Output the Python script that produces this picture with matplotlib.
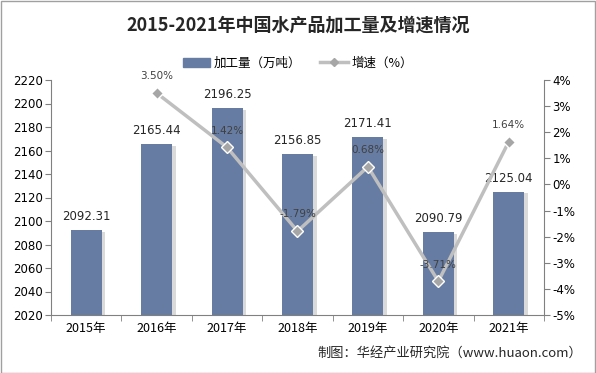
import matplotlib.pyplot as plt
import matplotlib.patches as mpatches
from matplotlib.lines import Line2D

plt.rcParams['font.family'] = ['Noto Sans CJK SC', 'DejaVu Sans']

years = ["2015年", "2016年", "2017年", "2018年", "2019年", "2020年", "2021年"]
output = [2092.31, 2165.44, 2196.25, 2156.85, 2171.41, 2090.79, 2125.04]
growth_years = [1, 2, 3, 4, 5, 6]
growth = [3.50, 1.42, -1.79, 0.68, -3.71, 1.64]

bar_color = "#667CA3"
line_color = "#BFBFBF"
marker_color = "#A6A6A6"
axis_color = "#808080"

fig = plt.figure(figsize=(5.96, 3.73), dpi=100)
W, H = 596, 373
ax = fig.add_axes([51 / W, 1 - 315 / H, (544 - 51) / W, (315 - 80) / H])
ax2 = ax.twinx()

x = list(range(len(years)))
# soft shadow behind bars
ax.bar([i + 0.05 for i in x], [v - 2020 - 1.5 for v in output], width=0.44, bottom=2020,
       color="#DADADA", zorder=1)
ax.bar(x, [v - 2020 for v in output], width=0.44, bottom=2020, color=bar_color, zorder=2)
for i, v in zip(x, output):
    ax.text(i, v + 6, f"{v:.2f}", ha="center", va="bottom", fontsize=8.5,
            color="#262626", family=["DejaVu Sans"])

ax.set_xlim(-0.5, 6.5)
ax.set_ylim(2020, 2220)
ax.set_yticks(range(2020, 2221, 20))
ax.set_xticks(x)
ax.set_xticklabels(years, fontsize=9)
ax.set_xticks([i + 0.5 for i in range(-1, 7)], minor=True)
ax.tick_params(axis="x", which="major", length=0, pad=5)
ax.tick_params(axis="x", which="minor", length=4, color=axis_color)
ax.tick_params(axis="y", length=4, color=axis_color, labelsize=8.5, pad=2)
for lab in ax.get_yticklabels():
    lab.set_family(["DejaVu Sans"])

ax2.plot(growth_years, growth, color=line_color, lw=2.5, zorder=3)
ax2.plot(growth_years, growth, ls="none", marker="D", ms=6.5, color=marker_color,
         mec="white", mew=1, zorder=4)
for xi, g in zip(growth_years, growth):
    ax2.text(xi, g + 0.45, f"{g:.2f}%", ha="center", va="bottom", fontsize=7.5,
             color="#404040", family=["DejaVu Sans"])
ax2.set_ylim(-5, 4)
ax2.set_yticks(range(-5, 5))
ax2.set_yticklabels([f"{t}%" for t in range(-5, 5)])
ax2.tick_params(axis="y", length=4, color=axis_color, labelsize=8.5, pad=2)
for lab in ax2.get_yticklabels():
    lab.set_family(["DejaVu Sans"])

for a in (ax, ax2):
    a.spines["top"].set_visible(False)
    for s in ("left", "right", "bottom"):
        a.spines[s].set_color(axis_color)
ax.spines["right"].set_visible(False)
ax2.spines["left"].set_visible(False)
ax2.spines["bottom"].set_visible(False)

fig.text(0.5, 1 - 25 / H, "2015-2021年中国水产品加工量及增速情况", ha="center", va="center",
         fontsize=13, fontweight="bold", color="#262626")

handles = [mpatches.Patch(color=bar_color, label="加工量（万吨）"),
           Line2D([0], [0], color=line_color, lw=2.5, marker="D", ms=4,
                  mfc=marker_color, mec=marker_color, label="增速（%）")]
fig.legend(handles=handles, loc="center", bbox_to_anchor=(0.5, 1 - 63 / H), ncol=2,
           frameon=False, fontsize=9, handlelength=2.2, columnspacing=1.5,
           handletextpad=0.3)

fig.text(582 / W, 1 - 353 / H, "制图：华经产业研究院（www.huaon.com）", ha="right",
         va="center", fontsize=9.5, color="#262626")

fig.patches.append(mpatches.Rectangle((0.5 / W, 0.5 / H), 1 - 1.5 / W, 1 - 1.5 / H,
                                      transform=fig.transFigure, fill=False,
                                      edgecolor="#A0A0A0", lw=1))

fig.savefig("out.png", dpi=100)
